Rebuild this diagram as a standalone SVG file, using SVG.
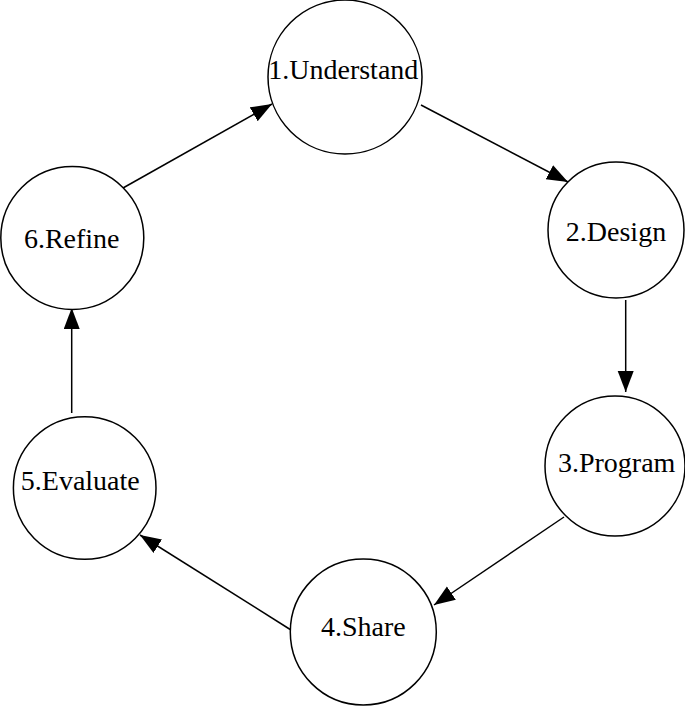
<svg xmlns="http://www.w3.org/2000/svg" width="685" height="706" viewBox="0 0 685 706">
<style>
.node circle{fill:#fff;stroke:#000;stroke-width:1.5}
.node text{font-family:"Liberation Serif","Times New Roman",serif;font-size:28px;fill:#000;text-anchor:middle}
.edges line{stroke:#000;stroke-width:1.5;marker-end:url(#arr)}
</style>
<defs>
<marker id="arr" markerUnits="userSpaceOnUse" markerWidth="24" markerHeight="18" refX="21" refY="8" orient="auto">
<path d="M0,0 L21,8 L0,16 z" fill="#000"/>
</marker>
</defs>
<rect width="685" height="706" fill="#fff"/>
<g class="edges">
<line x1="421" y1="105" x2="568" y2="182"/>
<line x1="625.7" y1="300" x2="625.7" y2="392"/>
<line x1="564" y1="517" x2="434" y2="605"/>
<line x1="291" y1="630" x2="140" y2="535"/>
<line x1="71.7" y1="413" x2="71.7" y2="308"/>
<line x1="123" y1="188" x2="272" y2="104"/>
</g>
<g id="n1" class="node"><circle cx="345" cy="77" r="77"/><text x="343.3" y="79">1.Understand</text></g>
<g id="n2" class="node"><circle cx="616" cy="230" r="68"/><text x="616" y="241">2.Design</text></g>
<g id="n3" class="node"><circle cx="615" cy="466" r="70"/><text x="616.7" y="472">3.Program</text></g>
<g id="n4" class="node"><circle cx="363.3" cy="632" r="73"/><text x="363.3" y="636">4.Share</text></g>
<g id="n5" class="node"><circle cx="84.7" cy="488" r="71.3"/><text x="80.3" y="490">5.Evaluate</text></g>
<g id="n6" class="node"><circle cx="72.3" cy="238" r="71.5"/><text x="71.7" y="248">6.Refine</text></g>
</svg>
